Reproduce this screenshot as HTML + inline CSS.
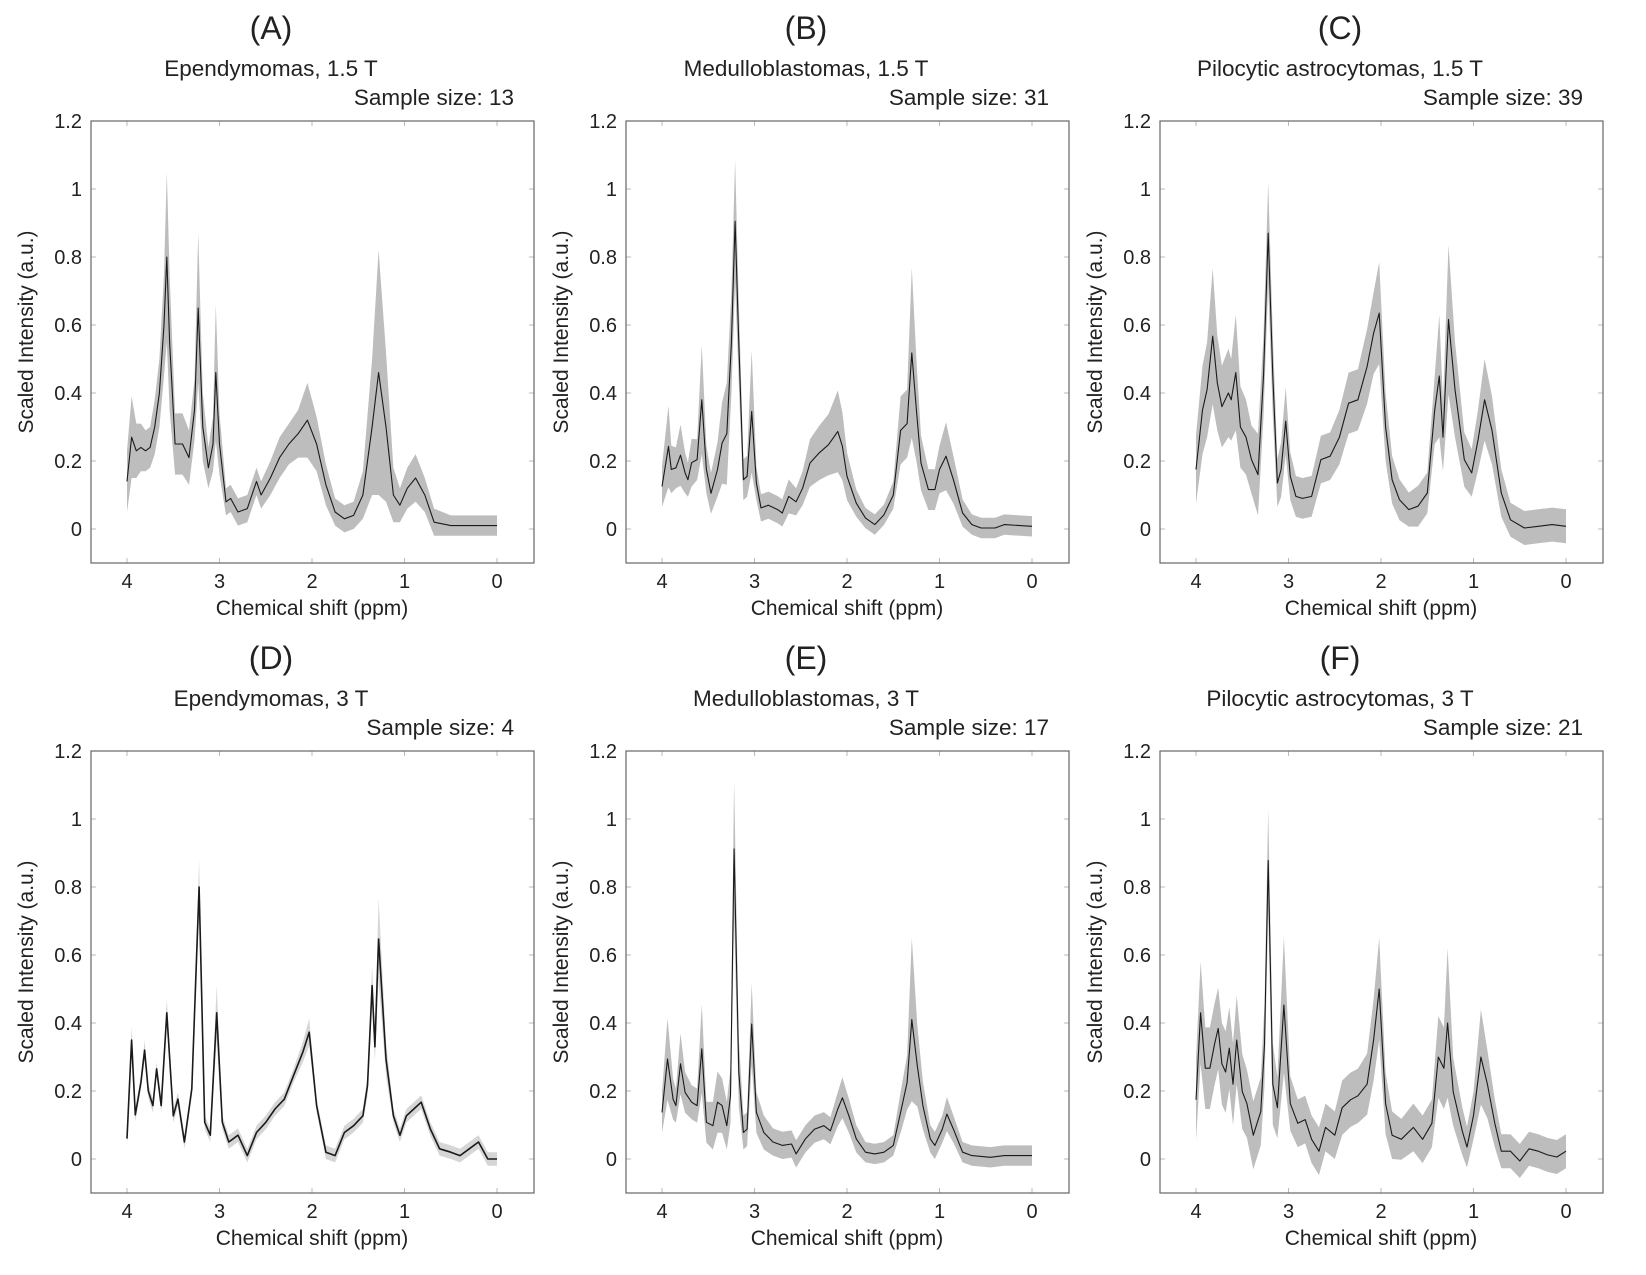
<!DOCTYPE html>
<html><head><meta charset="utf-8">
<style>
html,body{margin:0;padding:0;background:#fff;}
svg text{font-family:"Liberation Sans",Arial,sans-serif;fill:#222;}
</style></head>
<body>
<svg id="fig" width="1646" height="1270" viewBox="0 0 1646 1270" xmlns="http://www.w3.org/2000/svg"></svg>
<script>
// ---- data ----
const xTicks=[4,3,2,1,0];
const yTicks=[0,0.2,0.4,0.6,0.8,1,1.2];
const yTickLabels=["0","0.2","0.4","0.6","0.8","1","1.2"];
const panelLetters=["(A)","(B)","(C)","(D)","(E)","(F)"];
const panelTitles=["Ependymomas, 1.5 T","Medulloblastomas, 1.5 T","Pilocytic astrocytomas, 1.5 T","Ependymomas, 3 T","Medulloblastomas, 3 T","Pilocytic astrocytomas, 3 T"];
const sampleSizes=[13,31,39,4,17,21];

const ppmA=[4.00,3.95,3.90,3.85,3.80,3.75,3.70,3.65,3.60,3.57,3.54,3.48,3.40,3.33,3.27,3.23,3.18,3.12,3.07,3.04,3.00,2.93,2.88,2.80,2.70,2.60,2.55,2.45,2.35,2.25,2.15,2.05,1.95,1.85,1.75,1.65,1.55,1.45,1.35,1.28,1.20,1.12,1.05,0.97,0.88,0.78,0.68,0.50,0.30,0.15,0.00];
const meanA=[0.14,0.27,0.23,0.24,0.23,0.24,0.30,0.40,0.60,0.80,0.55,0.25,0.25,0.21,0.35,0.65,0.30,0.18,0.25,0.46,0.25,0.08,0.09,0.05,0.06,0.14,0.10,0.15,0.21,0.25,0.28,0.32,0.25,0.13,0.05,0.03,0.04,0.10,0.30,0.46,0.30,0.10,0.07,0.12,0.15,0.10,0.02,0.01,0.01,0.01,0.01];
const spreadA=[0.09,0.12,0.08,0.07,0.06,0.06,0.08,0.10,0.15,0.25,0.20,0.09,0.09,0.08,0.09,0.22,0.10,0.06,0.08,0.20,0.09,0.04,0.04,0.04,0.04,0.04,0.04,0.05,0.06,0.06,0.07,0.11,0.08,0.06,0.04,0.04,0.04,0.07,0.20,0.36,0.22,0.08,0.05,0.06,0.07,0.05,0.04,0.03,0.03,0.03,0.03];

const ppmB=[4.00,3.93,3.90,3.85,3.80,3.75,3.72,3.68,3.62,3.57,3.52,3.47,3.40,3.35,3.30,3.25,3.21,3.17,3.12,3.08,3.03,2.98,2.93,2.85,2.75,2.70,2.63,2.55,2.48,2.40,2.30,2.20,2.10,2.05,2.00,1.90,1.80,1.70,1.60,1.50,1.42,1.35,1.30,1.25,1.20,1.12,1.05,1.00,0.93,0.85,0.75,0.65,0.55,0.40,0.30,0.00];
const meanB=[0.125,0.243,0.175,0.18,0.217,0.165,0.145,0.195,0.204,0.38,0.175,0.105,0.175,0.253,0.28,0.547,0.905,0.547,0.145,0.155,0.346,0.135,0.062,0.07,0.057,0.047,0.096,0.08,0.12,0.194,0.224,0.248,0.287,0.243,0.155,0.076,0.032,0.013,0.042,0.10,0.29,0.31,0.518,0.35,0.194,0.116,0.116,0.175,0.214,0.145,0.047,0.013,0.003,0.003,0.013,0.008];
const spreadB=[0.06,0.12,0.07,0.06,0.09,0.06,0.05,0.07,0.06,0.16,0.07,0.06,0.08,0.12,0.15,0.15,0.18,0.12,0.06,0.06,0.18,0.05,0.04,0.04,0.04,0.04,0.05,0.04,0.05,0.07,0.08,0.09,0.12,0.10,0.07,0.04,0.03,0.03,0.03,0.04,0.10,0.10,0.25,0.15,0.08,0.06,0.06,0.07,0.10,0.07,0.04,0.03,0.03,0.03,0.03,0.03];

const ppmC=[4.00,3.93,3.88,3.82,3.77,3.72,3.65,3.62,3.57,3.52,3.46,3.40,3.33,3.27,3.22,3.17,3.12,3.08,3.03,2.98,2.92,2.85,2.75,2.65,2.55,2.45,2.35,2.25,2.15,2.08,2.02,1.95,1.88,1.80,1.70,1.60,1.50,1.42,1.37,1.33,1.27,1.20,1.10,1.02,0.95,0.88,0.80,0.70,0.60,0.45,0.30,0.15,0.00];
const meanC=[0.175,0.35,0.41,0.567,0.43,0.36,0.40,0.38,0.46,0.30,0.27,0.204,0.16,0.45,0.87,0.45,0.135,0.175,0.317,0.155,0.096,0.09,0.096,0.204,0.214,0.27,0.37,0.38,0.478,0.576,0.635,0.30,0.145,0.086,0.057,0.067,0.106,0.35,0.45,0.27,0.616,0.41,0.204,0.165,0.263,0.38,0.29,0.106,0.027,0.003,0.008,0.013,0.008];
const spreadC=[0.10,0.13,0.14,0.20,0.14,0.12,0.13,0.12,0.17,0.12,0.11,0.10,0.12,0.12,0.15,0.12,0.07,0.08,0.10,0.07,0.06,0.06,0.06,0.07,0.07,0.08,0.09,0.09,0.11,0.12,0.15,0.10,0.07,0.06,0.05,0.06,0.06,0.10,0.18,0.10,0.22,0.14,0.08,0.07,0.09,0.12,0.10,0.07,0.05,0.05,0.05,0.05,0.05];

const ppmD=[4.00,3.95,3.91,3.85,3.81,3.77,3.72,3.68,3.63,3.57,3.50,3.45,3.38,3.30,3.22,3.16,3.10,3.03,2.97,2.90,2.80,2.70,2.60,2.50,2.40,2.30,2.20,2.10,2.03,1.95,1.85,1.75,1.65,1.55,1.45,1.40,1.35,1.32,1.28,1.20,1.12,1.05,0.98,0.90,0.82,0.72,0.62,0.50,0.40,0.30,0.20,0.10,0.00];
const meanD=[0.06,0.35,0.13,0.225,0.32,0.20,0.157,0.265,0.157,0.43,0.127,0.176,0.05,0.206,0.80,0.108,0.07,0.43,0.108,0.05,0.07,0.01,0.078,0.108,0.147,0.176,0.245,0.314,0.373,0.157,0.02,0.01,0.078,0.098,0.127,0.216,0.51,0.33,0.647,0.294,0.127,0.07,0.127,0.147,0.167,0.088,0.03,0.02,0.01,0.03,0.05,0.0,0.0];
const spreadD=[0.02,0.04,0.02,0.02,0.03,0.02,0.02,0.02,0.02,0.04,0.02,0.02,0.02,0.02,0.08,0.02,0.02,0.08,0.02,0.02,0.02,0.02,0.02,0.02,0.02,0.02,0.02,0.03,0.04,0.02,0.02,0.02,0.02,0.02,0.02,0.03,0.06,0.04,0.12,0.05,0.02,0.02,0.02,0.02,0.02,0.02,0.02,0.02,0.02,0.02,0.02,0.02,0.02];

const ppmE=[4.00,3.94,3.88,3.85,3.80,3.75,3.68,3.62,3.57,3.52,3.45,3.40,3.35,3.30,3.26,3.22,3.17,3.12,3.08,3.03,2.98,2.90,2.80,2.70,2.60,2.55,2.45,2.35,2.25,2.18,2.10,2.05,1.98,1.90,1.80,1.70,1.60,1.50,1.42,1.35,1.30,1.24,1.18,1.10,1.05,0.97,0.92,0.85,0.75,0.65,0.45,0.30,0.00];
const meanE=[0.137,0.294,0.176,0.157,0.28,0.196,0.167,0.157,0.324,0.108,0.098,0.167,0.157,0.098,0.186,0.912,0.255,0.078,0.088,0.397,0.137,0.078,0.05,0.04,0.044,0.015,0.059,0.088,0.098,0.083,0.147,0.18,0.127,0.059,0.02,0.015,0.02,0.04,0.137,0.225,0.41,0.274,0.157,0.059,0.04,0.088,0.132,0.088,0.02,0.01,0.005,0.01,0.01];
const spreadE=[0.06,0.12,0.06,0.05,0.09,0.06,0.05,0.05,0.13,0.06,0.07,0.09,0.08,0.07,0.08,0.20,0.10,0.05,0.05,0.12,0.06,0.05,0.04,0.04,0.04,0.04,0.04,0.04,0.04,0.04,0.05,0.06,0.05,0.04,0.03,0.03,0.03,0.03,0.06,0.08,0.24,0.12,0.07,0.04,0.04,0.04,0.05,0.04,0.03,0.03,0.03,0.03,0.03];

const ppmF=[4.00,3.95,3.90,3.85,3.80,3.76,3.72,3.68,3.64,3.60,3.56,3.50,3.45,3.38,3.30,3.26,3.22,3.17,3.12,3.05,2.98,2.90,2.82,2.75,2.67,2.60,2.50,2.42,2.33,2.25,2.15,2.08,2.02,1.95,1.88,1.78,1.65,1.55,1.45,1.38,1.32,1.28,1.22,1.12,1.07,1.00,0.92,0.85,0.77,0.70,0.60,0.50,0.40,0.30,0.20,0.10,0.00];
const meanF=[0.174,0.43,0.267,0.267,0.337,0.384,0.28,0.256,0.326,0.22,0.35,0.198,0.163,0.07,0.14,0.337,0.878,0.22,0.151,0.453,0.163,0.105,0.116,0.058,0.023,0.093,0.07,0.151,0.174,0.186,0.22,0.35,0.50,0.163,0.07,0.058,0.093,0.058,0.105,0.30,0.267,0.40,0.198,0.081,0.035,0.128,0.30,0.22,0.105,0.023,0.023,-0.006,0.03,0.023,0.012,0.006,0.023];
const spreadF=[0.12,0.15,0.12,0.12,0.12,0.12,0.12,0.12,0.12,0.12,0.13,0.11,0.10,0.10,0.10,0.12,0.15,0.12,0.09,0.20,0.08,0.07,0.07,0.07,0.07,0.07,0.07,0.08,0.08,0.08,0.09,0.12,0.15,0.09,0.07,0.06,0.07,0.07,0.07,0.12,0.12,0.22,0.10,0.07,0.06,0.07,0.14,0.10,0.07,0.05,0.05,0.05,0.05,0.05,0.05,0.05,0.05];

const seriesPpm=[ppmA,ppmB,ppmC,ppmD,ppmE,ppmF];
const seriesMean=[meanA,meanB,meanC,meanD,meanE,meanF];
const seriesSpread=[spreadA,spreadB,spreadC,spreadD,spreadE,spreadF];

// ---- layout ----
const NS="http://www.w3.org/2000/svg";
const svg=document.getElementById('fig');
const colLeft=[91,626,1160];
const rowTop=[121,751];
const W=443,H=442;
function mk(tag,attrs,parent){const e=document.createElementNS(NS,tag);for(const k in attrs)e.setAttribute(k,attrs[k]);(parent||svg).appendChild(e);return e;}

for(let p=0;p<6;p++){
  const L=colLeft[p%3],T=rowTop[Math.floor(p/3)];
  const xS=v=>L+36+(4-v)*92.5;
  const yS=v=>T+H-34-v*340;
  const g=mk('g',{});
  
  

  const t1=mk('text',{x:L+180,y:T-82,'font-size':32,'text-anchor':'middle'},g);t1.textContent=panelLetters[p];
  
  
  const t2=mk('text',{x:L+180,y:T-45,'font-size':22.5,'text-anchor':'middle'},g);t2.textContent=panelTitles[p];
  
  
  const t3=mk('text',{x:L+423,y:T-16,'font-size':22.5,'text-anchor':'end'},g);t3.textContent='Sample size: '+sampleSizes[p];
  
  

  xTicks.forEach(v=>{
    const x=xS(v);
    mk('line',{x1:x,x2:x,y1:T+H,y2:T+H-5,stroke:'#bbb'},g);
    mk('line',{x1:x,x2:x,y1:T,y2:T+5,stroke:'#bbb'},g);
    const tl=mk('text',{x:x,y:T+H+25,'font-size':20,'text-anchor':'middle'},g);tl.textContent=String(v);
    
    
  });
  yTicks.forEach((v,i)=>{
    const y=yS(v);
    mk('line',{x1:L,x2:L+5,y1:y,y2:y,stroke:'#bbb'},g);
    mk('line',{x1:L+W,x2:L+W-5,y1:y,y2:y,stroke:'#bbb'},g);
    const tl=mk('text',{x:L-9,y:y+7,'font-size':20,'text-anchor':'end'},g);tl.textContent=yTickLabels[i];
    
    
  });

  const pp=seriesPpm[p],mm=seriesMean[p],ss=seriesSpread[p];
  const n=Math.min(pp.length,mm.length,ss.length);
  let up='',lo='',ln='';
  for(let i=0;i<n;i++){
    up+=(i?'L':'M')+xS(pp[i]).toFixed(1)+','+yS(mm[i]+ss[i]).toFixed(1);
    ln+=(i?'L':'M')+xS(pp[i]).toFixed(1)+','+yS(mm[i]).toFixed(1);
  }
  for(let i=n-1;i>=0;i--) lo+='L'+xS(pp[i]).toFixed(1)+','+yS(mm[i]-ss[i]).toFixed(1);
  const band=mk('path',{d:up+lo+'Z',fill:p===3?'#d6d6d6':'#bdbdbd',stroke:'none'},g);
  
  
  const line=mk('path',{d:ln,fill:'none',stroke:'#1a1a1a','stroke-width':p===3?1.6:1.1,'stroke-linejoin':'round'},g);
  
  

  const box=mk('rect',{x:L,y:T,width:W,height:H,fill:'none',stroke:'#666','stroke-width':1.2},g);
  
  

  const xl=mk('text',{x:L+221,y:T+H+52,'font-size':21,'text-anchor':'middle'},g);xl.textContent='Chemical shift (ppm)';
  
  
  const yc=T+H/2-10;
  const yl=mk('text',{x:L-58,y:yc,'font-size':21,'text-anchor':'middle',transform:`rotate(-90 ${L-58} ${yc})`},g);yl.textContent='Scaled Intensity (a.u.)';
  
  
}
</script>
</body></html>
